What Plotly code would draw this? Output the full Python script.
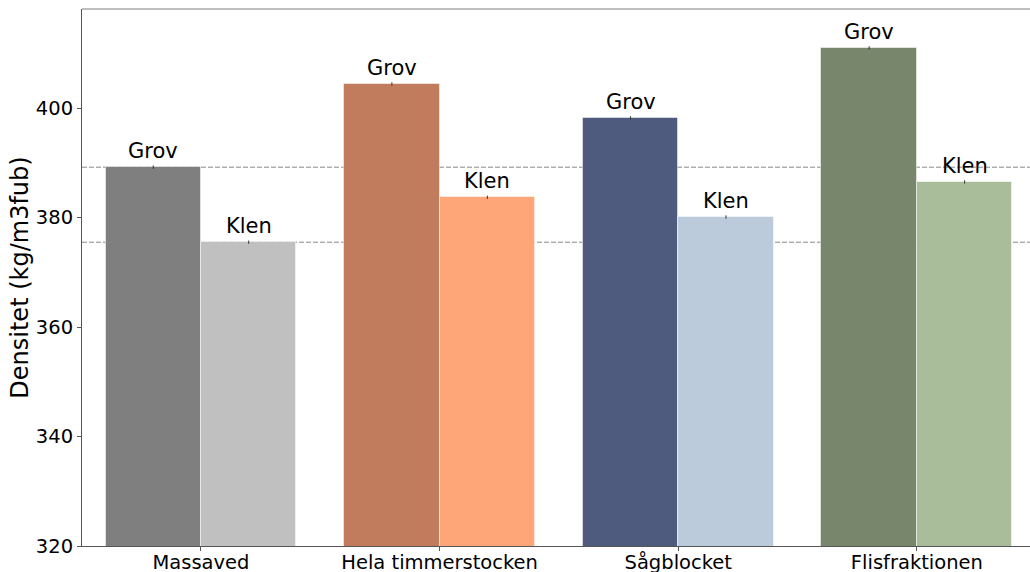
import plotly.graph_objects as go

categories = ["Massaved", "Hela timmerstocken", "Sågblocket", "Flisfraktionen"]
grov_values = [389.2, 404.4, 398.2, 411.0]
klen_values = [375.5, 383.7, 380.1, 386.5]
grov_err = [0.3, 0.3, 0.3, 0.3]
klen_err = [0.3, 0.3, 0.3, 0.3]
grov_colors = ["#7f7f7f", "#c07c5c", "#4f5b7e", "#78866c"]
klen_colors = ["#c0c0c0", "#ffa679", "#bccbdb", "#aabd9a"]
ref_lines = [grov_values[0], klen_values[0]]
y_ticks = [320, 340, 360, 380, 400]

BW = 0.4
idx = list(range(len(categories)))
xg = [i - BW / 2 for i in idx]
xk = [i + BW / 2 for i in idx]

fig = go.Figure()
fig.add_trace(go.Bar(x=xg, y=grov_values, width=BW, marker=dict(color=grov_colors, line=dict(color="rgba(255,255,255,0.5)", width=1)),
                     error_y=dict(type="data", array=grov_err, color="#333333", thickness=1, width=0), name="Grov"))
fig.add_trace(go.Bar(x=xk, y=klen_values, width=BW, marker=dict(color=klen_colors, line=dict(color="rgba(255,255,255,0.5)", width=1)),
                     error_y=dict(type="data", array=klen_err, color="#333333", thickness=1, width=0), name="Klen"))

for v in ref_lines:
    fig.add_shape(type="line", xref="paper", x0=0, x1=1, yref="y", y0=v, y1=v,
                  line=dict(color="#888888", width=1, dash="5px,2px"), layer="below")

for x, v in zip(xg, grov_values):
    fig.add_annotation(x=x, y=v, text="Grov", showarrow=False, yanchor="bottom", yshift=2,
                       font=dict(size=21, color="black", family="DejaVu Sans"))
for x, v in zip(xk, klen_values):
    fig.add_annotation(x=x, y=v, text="Klen", showarrow=False, yanchor="bottom", yshift=2,
                       font=dict(size=21, color="black", family="DejaVu Sans"))

# top spine
fig.add_shape(type="line", xref="paper", yref="paper", x0=0, x1=1, y0=1, y1=1,
              line=dict(color="#808080", width=1))

fig.update_layout(
    width=1030, height=572,
    margin=dict(l=82, r=0, t=9, b=26),
    plot_bgcolor="white", paper_bgcolor="white",
    showlegend=False, bargap=0,
    font=dict(family="DejaVu Sans", color="black"),
    xaxis=dict(range=[-0.4986, 3.474], tickvals=idx, ticktext=categories, showgrid=False, zeroline=False,
               showline=True, linecolor="#555555", linewidth=1, ticks="outside", ticklen=4,
               tickcolor="#555555", tickfont=dict(size=19.5), automargin=False, ticklabelstandoff=-5),
    yaxis=dict(range=[320, 418.1], tickvals=y_ticks, showgrid=False, zeroline=False,
               showline=True, linecolor="#555555", linewidth=1, ticks="outside", ticklen=4,
               tickcolor="#555555", tickfont=dict(size=19.5), automargin=False,
               title=dict(text="Densitet (kg/m3fub)", font=dict(size=24), standoff=0)),
)

fig.write_html("out.html")
